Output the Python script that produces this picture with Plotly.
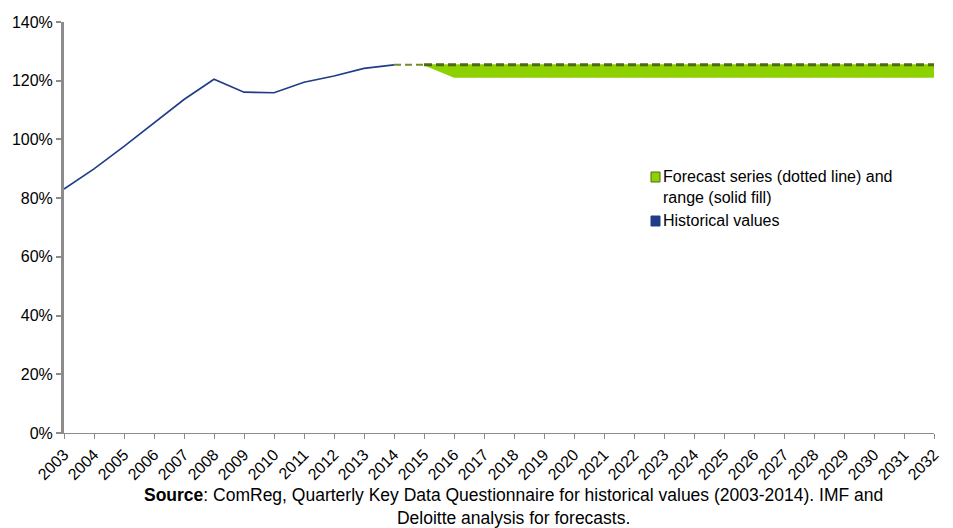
import plotly.graph_objects as go

hist_years = list(range(2003, 2015))
hist_vals = [83.1, 90.0, 97.6, 105.7, 113.6, 120.5, 116.1, 115.9, 119.5, 121.6, 124.2, 125.4]

fc_years = list(range(2015, 2033))
fc_central = [125.4] * 18
fc_upper = [125.6] * 18
fc_lower = [125.4] + [121.2] * 17

link_years = [2014, 2015]
link_vals = [125.4, 125.4]

y_ticks = [0, 20, 40, 60, 80, 100, 120, 140]
y_labels = [f"{v}%" for v in y_ticks]
x_ticks = list(range(2003, 2033))

font = "Arial, Liberation Sans, sans-serif"

fig = go.Figure()
fig.add_trace(go.Scatter(x=fc_years, y=fc_upper, mode="lines", line=dict(color="#8ed100", width=0), showlegend=False))
fig.add_trace(go.Scatter(x=fc_years, y=fc_lower, mode="lines", line=dict(color="#8ed100", width=1),
                         fill="tonexty", fillcolor="#8ed100", showlegend=False))
fig.add_trace(go.Scatter(x=link_years, y=link_vals, mode="lines",
                         line=dict(color="#6f8f2a", width=2, dash="7px,4px"), showlegend=False))
fig.add_trace(go.Scatter(x=fc_years, y=fc_central, mode="lines",
                         line=dict(color="#4e6b12", width=3, dash="8px,4px"), showlegend=False))
fig.add_trace(go.Scatter(x=hist_years, y=hist_vals, mode="lines",
                         line=dict(color="#1f3c88", width=1.6), showlegend=False))

# legend (manual)
fig.add_shape(type="rect", xref="paper", yref="paper", x0=(651-64)/870, x1=(660-64)/870,
              y0=(433-182)/411, y1=(433-172)/411, fillcolor="#8ed100", line=dict(color="#4e6b12", width=1))
fig.add_shape(type="rect", xref="paper", yref="paper", x0=(651-64)/870, x1=(660-64)/870,
              y0=(433-226)/411, y1=(433-216)/411, fillcolor="#1f3c88", line=dict(color="#1f3c88", width=1))
fig.add_annotation(xref="paper", yref="paper", x=(661-64)/870, y=(433-166)/411, xanchor="left", yanchor="top",
                   text="Forecast series (dotted line) and<br>range (solid fill)", showarrow=False, align="left",
                   font=dict(family=font, size=16, color="#000"))
fig.add_annotation(xref="paper", yref="paper", x=(661-64)/870, y=(433-210)/411, xanchor="left", yanchor="top",
                   text="Historical values", showarrow=False, align="left",
                   font=dict(family=font, size=16, color="#000"))
# source
fig.add_annotation(xref="paper", yref="paper", x=(513-64)/870, y=(433-483)/411, xanchor="center", yanchor="top",
                   text="<b>Source</b>: ComReg, Quarterly Key Data Questionnaire for historical values (2003-2014). IMF and<br>Deloitte analysis for forecasts.",
                   showarrow=False, align="center", font=dict(family=font, size=17.5, color="#000"))

fig.update_layout(
    width=953, height=528,
    margin=dict(l=64, r=19, t=22, b=95),
    paper_bgcolor="white", plot_bgcolor="white",
    font=dict(family=font, size=16, color="#000"),
    showlegend=False,
)
fig.update_xaxes(range=[2003, 2032], tickvals=x_ticks, ticktext=[str(y) for y in x_ticks], tickangle=-45,
                 showgrid=False, zeroline=False, showline=True, linecolor="#8c8c8c", linewidth=1,
                 ticks="outside", ticklen=5, tickcolor="#8c8c8c", tickfont=dict(size=16))
fig.update_yaxes(range=[0, 140], tickvals=y_ticks, ticktext=y_labels, showgrid=False, zeroline=False,
                 showline=True, linecolor="#8c8c8c", linewidth=3, ticks="outside", ticklen=5,
                 tickcolor="#8c8c8c", tickwidth=2, tickfont=dict(size=16))

fig.write_html("out.html")
